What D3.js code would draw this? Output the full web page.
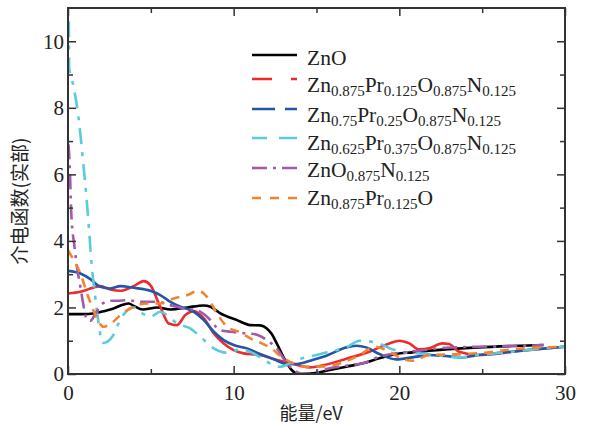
<!DOCTYPE html>
<html><head><meta charset="utf-8">
<script src="https://cdn.jsdelivr.net/npm/d3@7"></script>
<style>body{margin:0;background:#fff}svg{display:block}</style>
</head><body>
<svg id="c" width="589" height="426"></svg>
<script>
// ---- data ----
const xTicks = [0, 10, 20, 30];
const yTicks = [0, 2, 4, 6, 8, 10];
const xTitle = "能量/eV";
const yTitle = "介电函数(实部)";
const seriesNames = [
  "ZnO",
  "Zn_{0.875}Pr_{0.125}O_{0.875}N_{0.125}",
  "Zn_{0.75}Pr_{0.25}O_{0.875}N_{0.125}",
  "Zn_{0.625}Pr_{0.375}O_{0.875}N_{0.125}",
  "ZnO_{0.875}N_{0.125}",
  "Zn_{0.875}Pr_{0.125}O"
];
const seriesColors = ["#000000", "#ee2b2b", "#2256a8", "#5ccbd9", "#a45aab", "#f2842f"];

const eZnO = [0,1,1.5,2,2.75,3.3,3.66,4,4.5,5.4,6.2,7.2,8.2,8.6,9.2,10.2,11,11.6,12,12.3,12.6,13.1,13.5,13.9,14.8,15.8,16.8,17.8,18.8,19.8,20.8,21.8,22.8,24.8,26.8,28.7];
const vZnO = [1.8,1.8,1.82,1.87,1.97,2.08,2.12,2.04,1.94,2.0,1.94,2.0,2.06,2.02,1.82,1.62,1.47,1.46,1.37,1.2,0.92,0.42,0.12,0.0,0.02,0.12,0.22,0.32,0.47,0.6,0.65,0.7,0.74,0.8,0.84,0.87];

const eS1 = [0,0.75,1.55,1.95,2.55,3.16,3.96,4.57,4.97,5.57,6.08,6.58,7.08,7.6,8.2,8.8,9.4,10,10.6,11.6,12.4,13.2,14,14.6,15.4,16.8,18.2,19.4,20,20.6,21.2,21.8,22.6,23,23.6,24.8,25.8,26.8,28.8,30];
const vS1 = [2.42,2.47,2.6,2.64,2.54,2.5,2.64,2.79,2.67,2.02,1.52,1.47,1.77,1.89,1.67,1.22,0.92,0.72,0.62,0.57,0.45,0.35,0.25,0.2,0.26,0.46,0.67,0.92,1.0,0.92,0.74,0.77,0.92,0.9,0.67,0.57,0.6,0.67,0.77,0.82];

const eS2 = [0,0.75,1.35,1.95,2.55,3.16,3.96,4.97,5.57,6.18,6.78,7.6,8.2,8.8,9.4,10,10.8,11.6,12.4,13.2,13.8,14.8,15.6,16.8,17.4,18,18.8,19.8,20.8,21.8,22.8,23.8,24.8,26.8,30];
const vS2 = [3.1,3.02,2.85,2.62,2.57,2.64,2.59,2.5,2.37,2.17,2.02,1.87,1.62,1.27,1.02,0.87,0.77,0.6,0.45,0.3,0.3,0.43,0.55,0.8,0.85,0.8,0.6,0.44,0.5,0.57,0.54,0.5,0.57,0.67,0.82];

const eS3 = [0.05,0.07,0.26,0.46,0.7,0.86,1.02,1.16,1.3,1.42,1.6,1.87,2.07,2.3,2.67,3.15,3.67,4.0,4.4,4.97,5.57,5.98,6.58,7.38,7.99,8.8,9.6,10.4,11.2,12,12.8,13.4,13.8,14.8,15.8,16.8,17.6,18.6,19.6,20.4,21.2,22.2,23.6,24.8,26.8,28.8,30];
const vS3 = [10.6,9.2,8.8,8.3,7.44,6.64,5.83,5.03,4.13,3.33,2.5,1.45,0.93,0.95,1.12,1.62,1.95,2.0,1.85,1.72,1.87,1.77,1.52,1.37,1.12,0.77,0.64,0.74,0.62,0.37,0.22,0.32,0.42,0.55,0.67,0.8,1.0,0.94,0.74,0.64,0.62,0.57,0.5,0.57,0.67,0.77,0.82];

const eS4 = [0.03,0.1,0.2,0.4,0.54,0.75,0.95,1.15,1.35,1.7,2.1,2.6,3.0,3.56,4.37,5.37,6.18,6.98,7.79,8.39,9.2,9.8,10.8,11.4,12.0,12.6,13.2,13.7,14.2,15.0,15.8,16.8,17.8,18.8,19.8,21.2,22.8,24.8,26.8,28.7];
const vS4 = [6.9,6.3,4.8,3.8,3.22,2.62,2.02,1.62,1.6,1.85,2.12,2.2,2.2,2.22,2.17,2.17,2.07,1.97,1.92,1.72,1.32,1.27,1.22,1.18,1.02,0.77,0.33,0.1,0.0,0.05,0.17,0.25,0.32,0.52,0.62,0.7,0.79,0.82,0.84,0.87];

const eS5 = [0,0.34,0.75,1.15,1.45,1.75,2.15,2.55,3.16,3.96,4.77,5.57,6.38,7.18,7.89,8.39,8.99,9.6,10.4,11.2,11.7,12.4,12.8,13.6,14.3,15.6,16.6,17.6,18.5,19.4,20.2,20.8,21.8,23.8,25.2,26.8,30];
const vS5 = [3.72,3.42,3.02,2.42,2.02,1.67,1.42,1.5,1.77,2.02,2.12,2.12,2.27,2.37,2.5,2.32,1.82,1.42,1.25,1.02,0.92,0.72,0.55,0.32,0.22,0.23,0.35,0.57,0.82,0.67,0.45,0.4,0.57,0.6,0.64,0.74,0.82];

const seriesE = [eZnO, eS1, eS2, eS3, eS4, eS5];
const seriesV = [vZnO, vS1, vS2, vS3, vS4, vS5];
const plotDash = [null, null, null, "16,8,4,8", "15,6,3,6", "9,7"];
const legendDash = [null, "20,19,8,0", "23,10,6,0", "15,12,5,0", "15,6,3,6", "9,9"];

// ---- layout ----
const M = {l: 68, r: 565, t: 8, b: 374};
const svg = d3.select("#c");
const x = d3.scaleLinear().domain([0, 30]).range([M.l, M.r]);
const y = d3.scaleLinear().domain([0, 11]).range([M.b, M.t]);
const cjk = "'Noto Sans CJK SC','Noto Sans CJK JP',sans-serif";
const serif = "\"Liberation Serif\", \"Times New Roman\", \"DejaVu Serif\", serif";

svg.append("defs").append("clipPath").attr("id", "clip")
  .append("rect").attr("x", M.l).attr("y", M.t).attr("width", M.r - M.l).attr("height", M.b - M.t);

// curves
const line = d3.line().x(d => x(d[0])).y(d => y(d[1])).curve(d3.curveMonotoneX);
const g = svg.append("g").attr("clip-path", "url(#clip)");
seriesE.forEach((es, i) => {
  const pts = es.map((e, k) => [e, seriesV[i][k]]);
  g.append("path").datum(pts).attr("d", line)
    .attr("fill", "none").attr("stroke", seriesColors[i]).attr("stroke-width", 2.6)
    .attr("stroke-linejoin", "round")
    .attr("stroke-dasharray", plotDash[i]);
});

// axes
const axisColor = "#333";
function styleAxis(sel) {
  sel.attr("font-family", null).attr("font-size", null);
  sel.select(".domain").remove();
  sel.selectAll("line").attr("stroke", axisColor).attr("stroke-width", 1.5);
  sel.selectAll("text").style("font-family", serif).style("font-size", "21px").attr("fill", "#222");
}
const xMinor = [5, 15, 25];
const yMinor = [1, 3, 5, 7, 9];
svg.append("g").attr("transform", `translate(0,${M.b})`)
  .call(d3.axisBottom(x).tickValues(xTicks).tickSize(-8).tickPadding(11).tickFormat(d3.format("d"))).call(styleAxis);
svg.append("g").attr("transform", `translate(0,${M.b})`)
  .call(d3.axisBottom(x).tickValues(xMinor).tickSize(-5).tickFormat("")).call(styleAxis);
svg.append("g").attr("transform", `translate(0,${M.t})`)
  .call(d3.axisTop(x).tickValues(xTicks).tickSize(-8).tickFormat("")).call(styleAxis);
svg.append("g").attr("transform", `translate(0,${M.t})`)
  .call(d3.axisTop(x).tickValues(xMinor).tickSize(-5).tickFormat("")).call(styleAxis);
svg.append("g").attr("transform", `translate(${M.l},0)`)
  .call(d3.axisLeft(y).tickValues(yTicks).tickSize(-8).tickPadding(4).tickFormat(d3.format("d"))).call(styleAxis);
svg.append("g").attr("transform", `translate(${M.l},0)`)
  .call(d3.axisLeft(y).tickValues(yMinor).tickSize(-5).tickFormat("")).call(styleAxis);
svg.append("g").attr("transform", `translate(${M.r},0)`)
  .call(d3.axisRight(y).tickValues(yTicks).tickSize(-8).tickFormat("")).call(styleAxis);
svg.append("g").attr("transform", `translate(${M.r},0)`)
  .call(d3.axisRight(y).tickValues(yMinor).tickSize(-5).tickFormat("")).call(styleAxis);

svg.append("rect").attr("x", M.l).attr("y", M.t).attr("width", M.r - M.l).attr("height", M.b - M.t)
  .attr("fill", "none").attr("stroke", axisColor).attr("stroke-width", 2);

// titles
svg.append("text").attr("x", 311).attr("y", 420).attr("text-anchor", "middle")
  .attr("font-family", cjk).attr("font-size", 18).attr("fill", "#222").text(xTitle);
svg.append("text").attr("transform", "translate(27,201) rotate(-90)").attr("text-anchor", "middle")
  .attr("font-family", cjk).attr("font-size", 19).attr("fill", "#222").text(yTitle);

// legend
const legY = [55, 79, 109, 138, 168, 198];
const legTxtY = [65, 92, 122, 150, 177, 205];
seriesNames.forEach((name, i) => {
  svg.append("line").attr("x1", 252).attr("x2", 297).attr("y1", legY[i]).attr("y2", legY[i])
    .attr("stroke", seriesColors[i]).attr("stroke-width", 2.6).attr("stroke-dasharray", legendDash[i]);
  const t = svg.append("text").attr("x", 307).attr("y", legTxtY[i])
    .style("font-family", serif).style("font-size", "21.5px").attr("fill", "#222");
  const parts = name.split(/(_\{[^}]*\})/).filter(s => s.length);
  let sub = false;
  parts.forEach(p => {
    if (p.startsWith("_{")) {
      t.append("tspan").style("font-size", "15px").attr("dy", 4).text(p.slice(2, -1));
      sub = true;
    } else {
      t.append("tspan").attr("dy", sub ? -4 : 0).text(p);
      sub = false;
    }
  });
});
</script>
</body></html>
